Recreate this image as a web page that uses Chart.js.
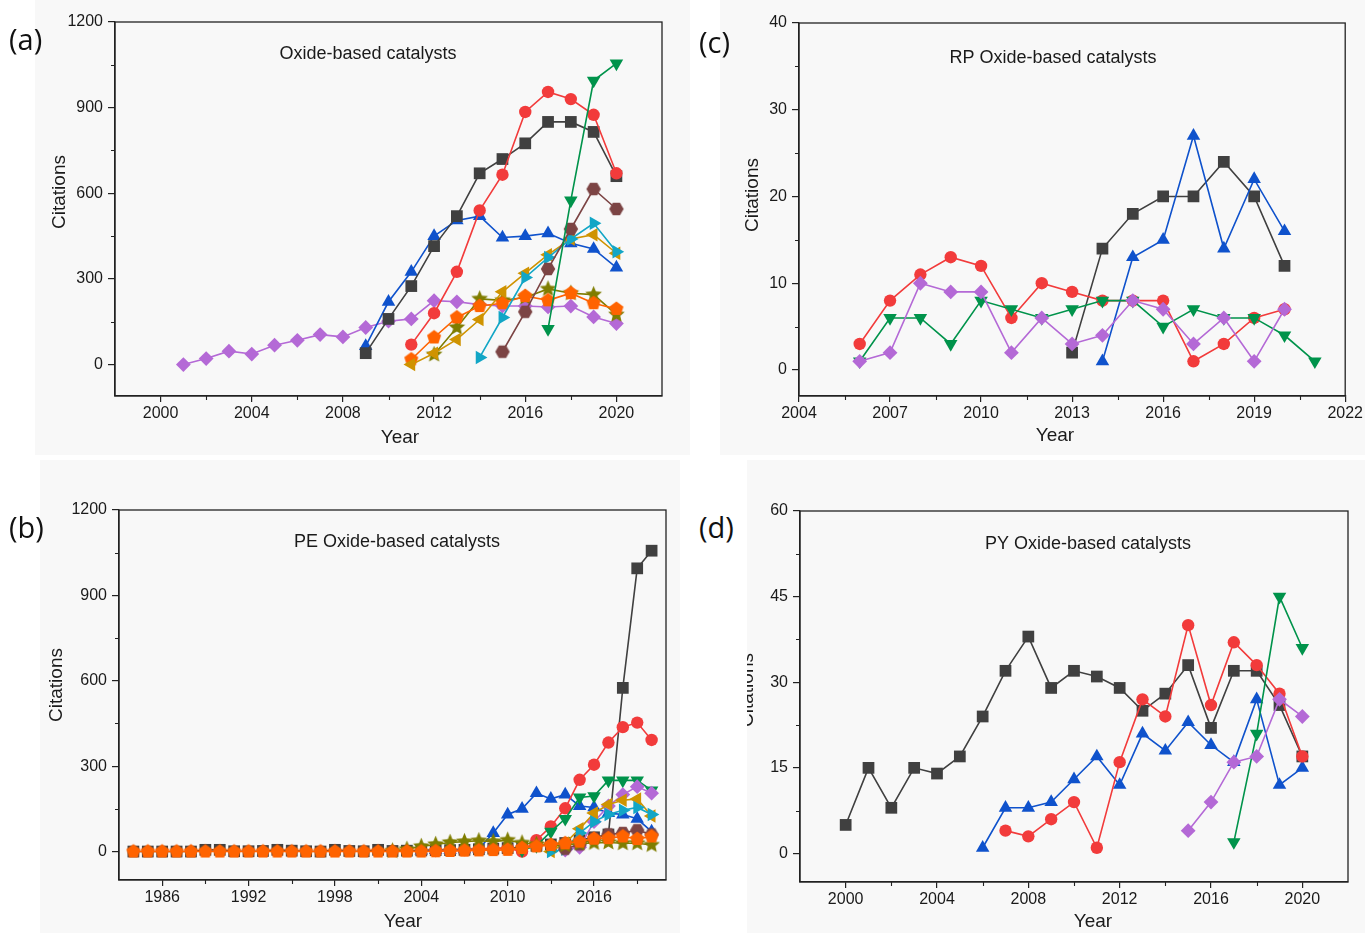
<!DOCTYPE html>
<html><head><meta charset="utf-8">
<script src="https://cdn.jsdelivr.net/npm/chart.js@4.4.1/dist/chart.umd.min.js"></script>
<style>
html,body{margin:0;padding:0;background:#fff;width:1365px;height:933px;overflow:hidden;}
canvas{position:absolute;background:#f8f8f8;}
.lab{position:absolute;font-family:"Open Sans","Noto Sans",sans-serif;font-size:29px;color:#111;line-height:1;}
</style></head><body>
<canvas id="ca" width="655" height="455" style="left:35px;top:0px"></canvas>
<canvas id="cb" width="640" height="473" style="left:40px;top:460px"></canvas>
<canvas id="cc" width="645" height="455" style="left:720px;top:0px"></canvas>
<canvas id="cd" width="618" height="473" style="left:747px;top:460px"></canvas>
<div class="lab" style="left:9px;top:24px">(a)</div>
<div class="lab" style="left:9px;top:512px">(b)</div>
<div class="lab" style="left:699px;top:27px">(c)</div>
<div class="lab" style="left:699px;top:512px">(d)</div>
<script>
// ---------- Panel (a): Oxide-based catalysts ----------
const aYears  = [2001,2002,2003,2004,2005,2006,2007,2008,2009,2010,2011,2012,2013,2014,2015,2016,2017,2018,2019,2020];
const aBlack  = [null,null,null,null,null,null,null,null,40,160,275,415,520,670,720,775,850,850,815,660];
const aRed    = [null,null,null,null,null,null,null,null,null,null,70,180,325,540,665,885,955,930,875,670];
const aBlue   = [null,null,null,null,null,null,null,null,65,220,325,450,505,520,445,450,460,425,405,340];
const aPurple = [0,21,47,37,68,85,105,97,130,152,160,224,220,210,205,205,202,205,167,144];
const aOrange = [null,null,null,null,null,null,null,null,null,null,18,95,165,205,215,240,225,250,215,195];
const aOlive  = [null,null,null,null,null,null,null,null,null,null,null,35,130,230,225,235,265,250,245,175];
const aGold   = [null,null,null,null,null,null,null,null,null,null,0,40,88,158,255,320,385,440,455,390];
const aCyan   = [null,null,null,null,null,null,null,null,null,null,null,null,null,25,165,305,375,440,495,395];
const aBrown  = [null,null,null,null,null,null,null,null,null,null,null,null,null,null,45,185,335,475,615,545];
const aGreen  = [null,null,null,null,null,null,null,null,null,null,null,null,null,null,null,null,125,575,995,1055];
const aXTicks = [2000,2004,2008,2012,2016,2020];
const aXMinor = [2002,2006,2010,2014,2018];
const aYTicks = [0,300,600,900,1200];
const aYMinor = [150,450,750,1050];

// ---------- Panel (b): PE Oxide-based catalysts ----------
const bYears  = [1984,1985,1986,1987,1988,1989,1990,1991,1992,1993,1994,1995,1996,1997,1998,1999,2000,2001,2002,2003,2004,2005,2006,2007,2008,2009,2010,2011,2012,2013,2014,2015,2016,2017,2018,2019,2020];
const bBlack  = [0,0,0,0,0,6,6,1,1,2,6,3,1,0,6,2,1,6,2,3,4,5,5,6,8,10,12,15,20,25,30,40,50,60,575,995,1057];
const bOrange = [0,0,0,0,0,0,0,0,0,0,0,0,0,0,0,0,0,0,0,0,0,1,2,3,4,5,6,12,18,23,29,35,45,47,53,44,53];
const bOlive  = [null,null,null,null,null,null,null,null,null,null,null,null,null,null,null,null,null,null,2,8,18,25,32,35,38,35,40,30,25,20,22,28,30,32,29,29,23];
const bRed    = [null,null,null,null,null,null,null,null,null,null,null,null,null,null,null,null,null,null,null,null,null,2,3,5,8,10,12,0,40,88,152,252,305,383,437,453,392];
const bBlue   = [null,null,null,null,null,null,null,null,null,null,null,null,null,null,null,null,null,null,null,null,3,5,6,8,10,65,130,150,205,185,200,160,155,135,130,115,70];
const bGreen  = [null,null,null,null,null,null,null,null,null,null,null,null,null,null,null,null,null,null,null,null,null,null,null,null,null,null,null,5,20,70,115,190,195,250,250,250,215];
const bPurple = [null,null,null,null,null,null,null,null,null,null,null,null,null,null,null,null,null,null,null,null,null,null,null,null,null,null,null,null,null,null,5,15,105,160,200,228,205];
const bGold   = [null,null,null,null,null,null,null,null,null,null,null,null,null,null,null,null,null,null,null,null,null,null,null,null,null,null,null,null,null,0,30,80,135,165,180,185,125];
const bCyan   = [null,null,null,null,null,null,null,null,null,null,null,null,null,null,null,null,null,null,null,null,null,null,null,null,null,null,null,null,null,0,8,65,105,130,145,155,130];
const bBrown  = [null,null,null,null,null,null,null,null,null,null,null,null,null,null,null,null,null,null,null,null,null,null,null,null,null,null,null,null,null,null,10,25,45,60,65,75,60];
const bXTicks = [1986,1992,1998,2004,2010,2016];
const bXMinor = [1989,1995,2001,2007,2013,2019];
const bYTicks = [0,300,600,900,1200];
const bYMinor = [150,450,750,1050];

// ---------- Panel (c): RP Oxide-based catalysts ----------
const cYears  = [2006,2007,2008,2009,2010,2011,2012,2013,2014,2015,2016,2017,2018,2019,2020,2021];
const cBlack  = [null,null,null,null,null,null,null,2,14,18,20,20,24,20,12,null];
const cRed    = [3,8,11,13,12,6,10,9,8,8,8,1,3,6,7,null];
const cBlue   = [null,null,null,null,null,null,null,null,1,13,15,27,14,22,16,null];
const cGreen  = [1,6,6,3,8,7,6,7,8,8,5,7,6,6,4,1];
const cPurple = [1,2,10,9,9,2,6,3,4,8,7,3,6,1,7,null];
const cXTicks = [2004,2007,2010,2013,2016,2019,2022];
const cXMinor = [2005.5,2008.5,2011.5,2014.5,2017.5,2020.5];
const cYTicks = [0,10,20,30,40];
const cYMinor = [5,15,25,35];

// ---------- Panel (d): PY Oxide-based catalysts ----------
const dYears  = [2000,2001,2002,2003,2004,2005,2006,2007,2008,2009,2010,2011,2012,2013,2014,2015,2016,2017,2018,2019,2020];
const dBlack  = [5,15,8,15,14,17,24,32,38,29,32,31,29,25,28,33,22,32,32,26,17];
const dRed    = [null,null,null,null,null,null,null,4,3,6,9,1,16,27,24,40,26,37,33,28,17];
const dBlue   = [null,null,null,null,null,null,1,8,8,9,13,17,12,21,18,23,19,16,27,12,15];
const dPurple = [null,null,null,null,null,null,null,null,null,null,null,null,null,null,null,4,9,16,17,27,24];
const dGreen  = [null,null,null,null,null,null,null,null,null,null,null,null,null,null,null,null,null,2,21,45,36];
const dXTicks = [2000,2004,2008,2012,2016,2020];
const dXMinor = [2002,2006,2010,2014,2018];
const dYTicks = [0,15,30,45,60];
const dYMinor = [7.5,22.5,37.5,52.5];

// ---------- styling ----------
const FONT = '"Liberation Sans", Arial, sans-serif';
const COL = {
  black:'#404040', red:'#f23b3b', blue:'#0f52cc', green:'#00934b', purple:'#b469d6',
  gold:'#cf9300', cyan:'#12a6c6', brown:'#7c4444', orange:'#ff6300', olive:'#7f7d00'
};
function polyImg(n, color, r, star, rot){
  const s = Math.ceil(r*2+3);
  const c = document.createElement('canvas'); c.width = s; c.height = s;
  const g = c.getContext('2d'); g.fillStyle = color; g.beginPath();
  const cx = s/2, cy = s/2, pts = star ? n*2 : n;
  for (let i=0;i<pts;i++){
    const a = -Math.PI/2 + (rot||0) + i*2*Math.PI/pts;
    const rr = (star && i%2) ? r*0.45 : r;
    const x = cx + rr*Math.cos(a), y = cy + rr*Math.sin(a);
    if (i) g.lineTo(x,y); else g.moveTo(x,y);
  }
  g.closePath(); g.fill(); return c;
}
const MK = {
  black:{pointStyle:'rect', pointRadius:8.3},
  red:{pointStyle:'circle', pointRadius:6.2},
  blue:{pointStyle:'triangle', pointRadius:7.8},
  green:{pointStyle:'triangle', pointRadius:7.8, pointRotation:180},
  purple:{pointStyle:'rectRot', pointRadius:7.4},
  gold:{pointStyle:'triangle', pointRadius:7.8, pointRotation:270},
  cyan:{pointStyle:'triangle', pointRadius:7.8, pointRotation:90},
  brown:{pointStyle: polyImg(6, COL.brown, 7.2, false, Math.PI/6), pointRadius:6},
  orange:{pointStyle: polyImg(5, COL.orange, 7.4, false, 0), pointRadius:6},
  olive:{pointStyle: polyImg(5, COL.olive, 8.8, true, 0), pointRadius:6}
};
function ds(years, vals, key){
  const pts = [];
  years.forEach((y,i)=>{ if (vals[i] !== null) pts.push({x:y, y:vals[i]}); });
  return Object.assign({
    data: pts, borderColor: COL[key], backgroundColor: COL[key],
    pointBackgroundColor: COL[key], pointBorderColor: COL[key], pointBorderWidth: 0,
    borderWidth: 1.6, tension: 0, pointRotation: 0
  }, MK[key]);
}
const deco = {
  id:'deco',
  afterDraw(chart, args, o){
    const {ctx, chartArea:ca, scales} = chart;
    ctx.save();
    ctx.strokeStyle = '#222'; ctx.lineWidth = 1.3;
    ctx.strokeRect(ca.left, ca.top, ca.right-ca.left, ca.bottom-ca.top);
    ctx.lineWidth = 1.1; ctx.beginPath();
    (o.xMinor||[]).forEach(v=>{ const p = Math.round(scales.x.getPixelForValue(v))+0.5; ctx.moveTo(p, ca.bottom); ctx.lineTo(p, ca.bottom+4); });
    (o.yMinor||[]).forEach(v=>{ const p = Math.round(scales.y.getPixelForValue(v))+0.5; ctx.moveTo(ca.left-4, p); ctx.lineTo(ca.left, p); });
    ctx.stroke();
    ctx.fillStyle = '#1a1a1a';
    (o.texts||[]).forEach(t=>{
      ctx.save();
      ctx.font = t.size + 'px ' + FONT;
      ctx.textAlign = 'center'; ctx.textBaseline = t.base || 'middle';
      ctx.translate(t.x, t.y);
      if (t.rot) ctx.rotate(t.rot);
      ctx.fillText(t.t, 0, 0);
      ctx.restore();
    });
    ctx.restore();
  }
};
function makeChart(id, datasets, cfg){
  const tickFont = {family: FONT, size: 16};
  new Chart(document.getElementById(id), {
    type:'line',
    data:{datasets},
    options:{
      responsive:false, animation:false, events:[],
      layout:{padding:{top:cfg.padTop, right:cfg.padRight, left:0, bottom:0}},
      plugins:{legend:{display:false}, tooltip:{enabled:false}, title:{display:false},
        deco:{xMinor:cfg.xMinor, yMinor:cfg.yMinor, texts:cfg.texts}},
      scales:{
        x:{type:'linear', min:cfg.xmin, max:cfg.xmax,
          afterBuildTicks:s=>{ s.ticks = cfg.xTicks.map(v=>({value:v})); },
          afterFit:s=>{ s.height = cfg.xH; },
          ticks:{autoSkip:false, maxRotation:0, minRotation:0, padding:2, color:'#1a1a1a', font:tickFont, callback:v=>String(v)},
          grid:{display:true, drawOnChartArea:false, drawTicks:true, tickLength:6, color:'#222', lineWidth:1.2},
          border:{display:true, color:'#222', width:1.3}},
        y:{type:'linear', min:cfg.ymin, max:cfg.ymax,
          afterBuildTicks:s=>{ s.ticks = cfg.yTicks.map(v=>({value:v})); },
          afterFit:s=>{ s.width = cfg.yW; },
          ticks:{autoSkip:false, padding:5, color:'#1a1a1a', font:tickFont, callback:v=>String(v)},
          grid:{display:true, drawOnChartArea:false, drawTicks:true, tickLength:7, color:'#222', lineWidth:1.2},
          border:{display:true, color:'#222', width:1.3}}
      }
    },
    plugins:[deco]
  });
}

// (a)
makeChart('ca', [
  ds(aYears,aGreen,'green'), ds(aYears,aRed,'red'), ds(aYears,aBlack,'black'), ds(aYears,aBrown,'brown'),
  ds(aYears,aCyan,'cyan'), ds(aYears,aGold,'gold'), ds(aYears,aOrange,'orange'), ds(aYears,aOlive,'olive'),
  ds(aYears,aBlue,'blue'), ds(aYears,aPurple,'purple')
], {xmin:1998, xmax:2022, ymin:-110, ymax:1200, xTicks:aXTicks, yTicks:aYTicks, xMinor:aXMinor, yMinor:aYMinor,
    padTop:22, padRight:28, yW:80, xH:59,
    texts:[{t:'Oxide-based catalysts', x:333, y:54, size:18},
           {t:'Year', x:365, y:438, size:19},
           {t:'Citations', x:25, y:192, size:19, rot:-Math.PI/2}]});

// (b)
makeChart('cb', [
  ds(bYears,bOrange,'orange'), ds(bYears,bOlive,'olive'), ds(bYears,bBrown,'brown'), ds(bYears,bCyan,'cyan'),
  ds(bYears,bGold,'gold'), ds(bYears,bPurple,'purple'), ds(bYears,bGreen,'green'), ds(bYears,bRed,'red'),
  ds(bYears,bBlue,'blue'), ds(bYears,bBlack,'black')
], {xmin:1983, xmax:2021, ymin:-100, ymax:1200, xTicks:bXTicks, yTicks:bYTicks, xMinor:bXMinor, yMinor:bYMinor,
    padTop:50, padRight:14, yW:79, xH:53,
    texts:[{t:'PE Oxide-based catalysts', x:357, y:82, size:18},
           {t:'Year', x:363, y:462, size:19},
           {t:'Citations', x:17, y:225, size:19, rot:-Math.PI/2}]});

// (c)
makeChart('cc', [
  ds(cYears,cPurple,'purple'), ds(cYears,cGreen,'green'), ds(cYears,cRed,'red'),
  ds(cYears,cBlue,'blue'), ds(cYears,cBlack,'black')
], {xmin:2004, xmax:2022, ymin:-3, ymax:40, xTicks:cXTicks, yTicks:cYTicks, xMinor:cXMinor, yMinor:cYMinor,
    padTop:23, padRight:19, yW:79, xH:59,
    texts:[{t:'RP Oxide-based catalysts', x:333, y:58, size:18},
           {t:'Year', x:335, y:436, size:19},
           {t:'Citations', x:33, y:195, size:19, rot:-Math.PI/2}]});

// (d)
makeChart('cd', [
  ds(dYears,dPurple,'purple'), ds(dYears,dGreen,'green'), ds(dYears,dRed,'red'),
  ds(dYears,dBlue,'blue'), ds(dYears,dBlack,'black')
], {xmin:1998, xmax:2022, ymin:-5, ymax:60, xTicks:dXTicks, yTicks:dYTicks, xMinor:dXMinor, yMinor:dYMinor,
    padTop:51, padRight:17, yW:53, xH:51,
    texts:[{t:'PY Oxide-based catalysts', x:341, y:84, size:18},
           {t:'Year', x:346, y:462, size:19},
           {t:'Citations', x:6, y:230, size:19, rot:-Math.PI/2, base:'alphabetic'}]});
</script>
</body></html>
